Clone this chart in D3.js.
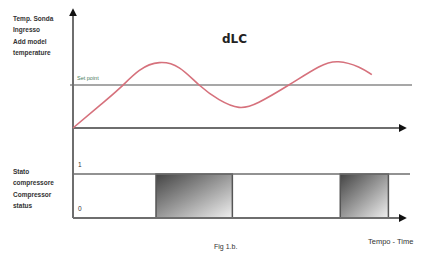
<!DOCTYPE html>
<html><head><meta charset="utf-8">
<script src="https://cdn.jsdelivr.net/npm/d3@7"></script>
<style>html,body{margin:0;padding:0;background:#fff;overflow:hidden}</style>
</head><body>
<svg id="c" width="425" height="256"></svg>
<script>
// Data
const timePoints = [0, 8, 14, 20, 26, 32, 38, 44, 50, 56, 65, 74, 80, 86, 90];
const tempValues = [0, 2.6, 4.6, 6.7, 7.6, 7.0, 5.0, 3.3, 2.4, 3.0, 5.0, 7.1, 7.7, 7.1, 6.2];
const setPoint = 5;
const compressorOnStart = [25, 80.5];
const compressorOnEnd = [48, 95];
const stateLevels = [0, 1];
const tempAxisLabel = ["Temp. Sonda", "Ingresso", "Add model", "temperature"];
const stateAxisLabel = ["Stato", "compressore", "Compressor", "status"];
const title = "dLC";
const setPointLabel = "Set point";
const timeLabel = "Tempo - Time";
const figLabel = "Fig 1.b.";

const svg = d3.select("#c");
const x = d3.scaleLinear().domain([0, 100]).range([73, 405]);
const yT = d3.scaleLinear().domain([0, 10]).range([128, 42]);
const yS = d3.scaleLinear().domain([0, 1]).range([218, 174]);

const defs = svg.append("defs");
const g = defs.append("linearGradient").attr("id","grad").attr("x1","0").attr("y1","0").attr("x2","1").attr("y2","1");
g.append("stop").attr("offset","0").attr("stop-color","#444");
g.append("stop").attr("offset","0.5").attr("stop-color","#999");
g.append("stop").attr("offset","1").attr("stop-color","#f0f0f0");
defs.append("marker").attr("id","arr").attr("viewBox","0 0 10 10").attr("refX",4).attr("refY",5)
  .attr("markerWidth",4).attr("markerHeight",4).attr("orient","auto")
  .append("path").attr("d","M0,0 L10,5 L0,10 z").attr("fill","#111");

const axisCol = "#6e6e6e";
compressorOnStart.forEach((s,i)=>{
  svg.append("rect").attr("x", x(s)).attr("y", yS(1))
    .attr("width", x(compressorOnEnd[i]) - x(s)).attr("height", yS(0) - yS(1))
    .attr("fill","url(#grad)").attr("stroke","#555").attr("stroke-width",1.5);
});
svg.append("line").attr("x1", x(0)).attr("x2", 410).attr("y1", yS(1)).attr("y2", yS(1))
  .attr("stroke", axisCol).attr("stroke-width", 1.5);
svg.append("line").attr("x1", x(0)).attr("x2", 402).attr("y1", yS(0)).attr("y2", yS(0))
  .attr("stroke", axisCol).attr("stroke-width", 2).attr("marker-end","url(#arr)");
svg.append("line").attr("x1", x(0)).attr("x2", 402).attr("y1", yT(0)).attr("y2", yT(0))
  .attr("stroke", axisCol).attr("stroke-width", 2).attr("marker-end","url(#arr)");
svg.append("line").attr("x1", 70).attr("x2", 412).attr("y1", yT(setPoint)).attr("y2", yT(setPoint))
  .attr("stroke", "#8a8a8a").attr("stroke-width", 1.5);
svg.append("line").attr("x1", x(0)).attr("x2", x(0)).attr("y1", yS(0)).attr("y2", 13)
  .attr("stroke", axisCol).attr("stroke-width", 2).attr("marker-end","url(#arr)");
const line = d3.line().x((d,i)=>x(timePoints[i])).y(d=>yT(d)).curve(d3.curveNatural);
svg.append("path").datum(tempValues).attr("d", line).attr("fill","none")
  .attr("stroke","#d6717c").attr("stroke-width",1.6);

const small = {"font-family":"Liberation Sans, Arial, sans-serif","font-size":"6.5px","fill":"#333"};
function txt(t, xx, yy, opts){
  const e = svg.append("text").attr("x", xx).attr("y", yy).text(t);
  Object.entries(Object.assign({}, small, opts||{})).forEach(([k,v])=>e.attr(k,v));
  return e;
}
tempAxisLabel.forEach((t,i)=>txt(t, 13, 21 + i*11.3, {"font-weight":"bold"}));
stateAxisLabel.forEach((t,i)=>txt(t, 13, 174 + i*11.3, {"font-weight":"bold"}));
txt(setPointLabel, 77, 80, {"fill":"#4a7a5a","font-size":"5.5px"});
stateLevels.forEach(v=>txt(String(v), 78, v===1 ? 167 : 211));
txt(title, 222, 43, {"font-size":"12px","font-weight":"bold","fill":"#222","font-family":"DejaVu Sans, sans-serif"});
txt(figLabel, 214, 249, {"font-size":"7px"});
txt(timeLabel, 368, 244, {"font-size":"7.5px"});
</script>
</body></html>
